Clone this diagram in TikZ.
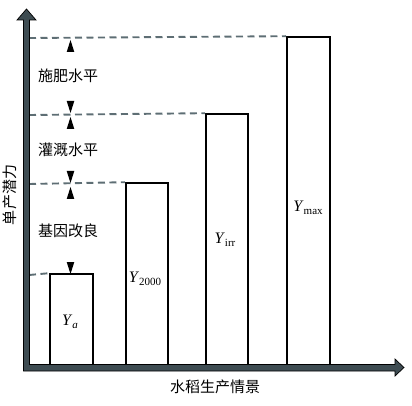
\documentclass[tikz,border=0pt]{standalone}
\usepackage{fontspec}
\setmainfont{Liberation Serif}
\newfontfamily\cjk{Noto Sans CJK SC}
\definecolor{axisgray}{HTML}{3E4C52}
\definecolor{dashgray}{HTML}{5E6E74}
\begin{document}
\begin{tikzpicture}[x=1pt,y=-1pt,
  bar/.style={draw=black,line width=1.8pt,fill=white,anchor=south west,inner sep=0pt},
  dashline/.style={draw=dashgray,line width=1.9pt,dash pattern=on 7pt off 4.5pt},
  zh/.style={font=\cjk\fontsize{15}{17}\selectfont,inner sep=0pt},
  ylab/.style={font=\fontsize{16}{18}\selectfont,inner sep=0pt},
  uptri/.pic={\fill[black] (0,0) -- (-3.8,12) -- (3.8,12) -- cycle;},
  dntri/.pic={\fill[black] (0,0) -- (-3.8,-12) -- (3.8,-12) -- cycle;}]
\useasboundingbox (0,0) rectangle (412,406);
% bars
\node[bar,minimum width=43pt,minimum height=92pt] (ya) at (49,367) {};
\node[bar,minimum width=42pt,minimum height=183pt] (y2000) at (125,367) {};
\node[bar,minimum width=42pt,minimum height=252pt] (yirr) at (205,367) {};
\node[bar,minimum width=43pt,minimum height=329pt] (ymax) at (286,367) {};
% dashed levels
\coordinate (l1) at (29,38);
\coordinate (l2) at (29,115);
\coordinate (l3) at (29,184);
\coordinate (l4) at (29,275);
\draw[dashline] (l1) -- (ymax.north west);
\draw[dashline] (l2) -- (yirr.north west);
\draw[dashline] (l3) -- (y2000.north west);
\draw[dashline] (l4) -- (ya.north west);
% axes
\fill[axisgray,draw=black,line width=0.7pt]
  (23.5,371) -- (23.5,20) -- (17,20) -- (26.5,9) -- (36,20) -- (29.5,20) -- (29.5,364.5)
  -- (395,364.5) -- (395,359) -- (404,367.5) -- (395,376) -- (395,371) -- cycle;
% triangles
\pic at (70.5,40) {uptri};
\pic at (70.5,113) {dntri};
\pic at (70.5,117) {uptri};
\pic at (70.5,183) {dntri};
\pic at (70.5,187) {uptri};
\pic at (70.5,274) {dntri};
% level labels
\node[zh] (t1) at (68,76) {施肥水平};
\node[zh] (t2) at (68,150) {灌溉水平};
\node[zh] (t3) at (68,231) {基因改良};
% bar labels
\node[ylab] (la) at (70,322) {\textit{Y}\raisebox{-0.45ex}{\textit{\fontsize{11}{12}\selectfont a}}};
\node[ylab] (l2000) at (145,279) {\textit{Y}\raisebox{-0.45ex}{\fontsize{11}{12}\selectfont 2000}};
\node[ylab] (lirr) at (225,240) {\textit{Y}\raisebox{-0.45ex}{\fontsize{11}{12}\selectfont irr}};
\node[ylab] (lmax) at (308,208) {\textit{Y}\raisebox{-0.45ex}{\fontsize{11}{12}\selectfont max}};
% axis labels
\node[zh] (xl) at (215,387) {水稻生产情景};
\node[zh,rotate=90] (yl) at (10,195) {单产潜力};
\end{tikzpicture}
\end{document}
